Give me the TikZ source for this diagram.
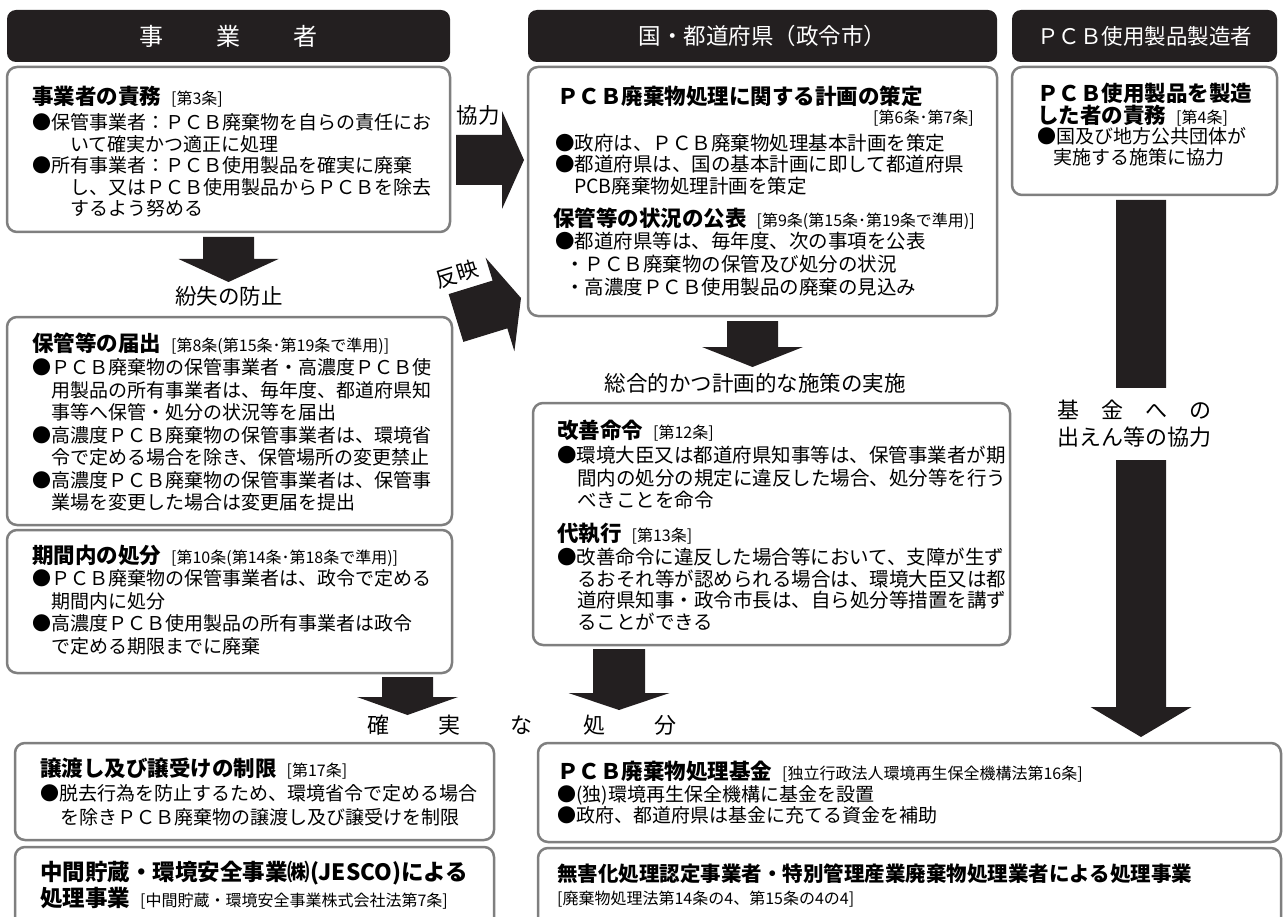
\documentclass[tikz,border=0pt]{standalone}
\usepackage{fontspec}
\setmainfont{Noto Sans CJK JP}
\usetikzlibrary{calc}
\definecolor{ink}{HTML}{231F20}
\definecolor{frame}{HTML}{7F7F7F}
\newcommand\fsz[1]{\fontsize{#1}{#1}\selectfont}
\newcommand\artref[1]{{\fsz{16}\mdseries #1}}
\tikzset{
  box/.style={draw=frame, line width=2.5pt, rounded corners=10pt, fill=white, inner sep=0pt},
  hdr/.style={fill=ink, rounded corners=9pt, inner sep=0pt, text=white},
  arr/.style={fill=ink},
  ln/.style={anchor=base west, inner sep=0pt, font=\fsz{19}},
  lng/.style={anchor=base west, inner sep=0pt, font=\fsz{19.5}},
  ttl/.style={anchor=base west, inner sep=0pt, font=\fsz{21.5}\bfseries},
  lbl/.style={inner sep=0pt, font=\fsz{21.5}},
}
% box from (x1,y1) to (x2,y2) in pixel units
\newcommand\roundbox[5]{\node[box, minimum width={#4-#2}, minimum height={#5-#3}] (#1) at ({(#2+#4)/2},{(#3+#5)/2}) {};}
% block arrow: start, end, half shaft width, half head width, head length
\newcommand\blockarrow[5]{%
  \coordinate (tmp-h) at ($(#2)!#5!(#1)$);
  \fill[arr] ($(#1)!#3!90:(#2)$) -- ($(tmp-h)!#3!-90:(#1)$) -- ($(tmp-h)!#4!-90:(#1)$) -- (#2)
    -- ($(tmp-h)!#4!90:(#1)$) -- ($(tmp-h)!#3!90:(#1)$) -- ($(#1)!#3!-90:(#2)$) -- cycle;}
\begin{document}
\begin{tikzpicture}[x=1pt,y=-1pt]
\useasboundingbox (0,0) rectangle (1284,917);
\clip (0,0) rectangle (1284,917);

% headers
\node[hdr, minimum width=443, minimum height=52, font=\fsz{24}] (h1) at (228.5,36) {事\hspace{53pt}業\hspace{53pt}者};
\node[hdr, minimum width=469, minimum height=52, font=\fsz{22.5}] (h2) at (762.5,36) {国・都道府県（政令市）};
\node[hdr, minimum width=265, minimum height=52, font=\fsz{21.5}] (h3) at (1144.5,36) {ＰＣＢ使用製品製造者};

% boxes
\roundbox{b1}{7}{67}{450}{232}
\roundbox{b2}{7}{317}{452}{525}
\roundbox{b3}{7}{530}{452}{673}
\roundbox{g1}{528}{67}{997}{316}
\roundbox{g2}{533}{403}{1010}{645}
\roundbox{m1}{1012}{67}{1277}{195}
\roundbox{l1}{15}{743}{494}{840}
\roundbox{l2}{15}{847}{494}{960}
\roundbox{r1}{538}{743}{1281}{842}
\roundbox{r2}{538}{848}{1281}{960}

% arrows
\coordinate (a1s) at (228.5,237); \coordinate (a1e) at (228.5,282);
\blockarrow{a1s}{a1e}{25.5pt}{50pt}{23pt}
\coordinate (a2s) at (456,160); \coordinate (a2e) at (524,160);
\blockarrow{a2s}{a2e}{25pt}{49pt}{22pt}
\coordinate (a3s) at (456,318); \coordinate (a3e) at (521,298);
\blockarrow{a3s}{a3e}{25pt}{49pt}{22pt}
\coordinate (a4s) at (752.5,321); \coordinate (a4e) at (752.5,367);
\blockarrow{a4s}{a4e}{25.5pt}{50.5pt}{20pt}
\coordinate (a5s) at (407.5,677); \coordinate (a5e) at (407.5,715);
\blockarrow{a5s}{a5e}{25.5pt}{50.5pt}{18pt}
\coordinate (a6s) at (619,649); \coordinate (a6e) at (619,710);
\blockarrow{a6s}{a6e}{26pt}{50.5pt}{17pt}
\coordinate (a7s) at (1141,200); \coordinate (a7e) at (1141,737);
\blockarrow{a7s}{a7e}{25pt}{50.5pt}{30pt}

% arrow labels
\node[lbl] (lfun) at (229,296) {紛失の防止};
\node[lbl, fill=white, inner sep=1pt] (lkyo) at (478,115) {協力};
\node[lbl, fill=white, inner sep=1pt, rotate=17] (lhan) at (457,274) {反映};
\node[lbl] (lsou) at (755,383) {総合的かつ計画的な施策の実施};
\node[lbl, font=\fsz{22}] (lkaku) at (522,725) {確\hspace{50pt}実\hspace{50pt}な\hspace{50pt}処\hspace{50pt}分};
\node[lbl, fill=white, align=center, font=\fontsize{22}{27}\selectfont, inner xsep=3pt, inner ysep=12pt] (lkik) at (1134,424) {基　金　へ　の\\出えん等の協力};

% B1
\node[ttl] (b1t) at (32,105) {事業者の責務\hspace{10pt}\artref{[第3条]}};
\node[ln] (b1a) at (32,130) {●保管事業者：ＰＣＢ廃棄物を自らの責任にお};
\node[ln] (b1b) at (70,152) {いて確実かつ適正に処理};
\node[ln] (b1c) at (32,173) {●所有事業者：ＰＣＢ使用製品を確実に廃棄};
\node[ln] (b1d) at (70,195) {し、又はＰＣＢ使用製品からＰＣＢを除去};
\node[ln] (b1e) at (70,216) {するよう努める};

% B2
\node[ttl] (b2t) at (32,351) {保管等の届出\hspace{10pt}\artref{[第8条(第15条･第19条で準用)]}};
\node[ln] (b2a) at (32,374) {●ＰＣＢ廃棄物の保管事業者・高濃度ＰＣＢ使};
\node[ln] (b2b) at (51,397) {用製品の所有事業者は、毎年度、都道府県知};
\node[ln] (b2c) at (51,419) {事等へ保管・処分の状況等を届出};
\node[ln] (b2d) at (32,442) {●高濃度ＰＣＢ廃棄物の保管事業者は、環境省};
\node[ln] (b2e) at (51,464) {令で定める場合を除き、保管場所の変更禁止};
\node[ln] (b2f) at (32,487) {●高濃度ＰＣＢ廃棄物の保管事業者は、保管事};
\node[ln] (b2g) at (51,509) {業場を変更した場合は変更届を提出};

% B3
\node[ttl] (b3t) at (32,563) {期間内の処分\hspace{10pt}\artref{[第10条(第14条･第18条で準用)]}};
\node[ln] (b3a) at (32,585) {●ＰＣＢ廃棄物の保管事業者は、政令で定める};
\node[ln] (b3b) at (51,608) {期間内に処分};
\node[ln] (b3c) at (32,630) {●高濃度ＰＣＢ使用製品の所有事業者は政令};
\node[ln] (b3d) at (51,653) {で定める期限までに廃棄};

% G1
\node[ttl] (g1t) at (557,105) {ＰＣＢ廃棄物処理に関する計画の策定};
\node[anchor=base east, inner sep=0pt, font=\fsz{16}] (g1r) at (974,124) {[第6条･第7条]};
\node[lng] (g1a) at (555,150.5) {●政府は、ＰＣＢ廃棄物処理基本計画を策定};
\node[lng] (g1b) at (555,171.5) {●都道府県は、国の基本計画に即して都道府県};
\node[lng] (g1c) at (574,193.5) {PCB廃棄物処理計画を策定};
\node[ttl] (g1u) at (553,227) {保管等の状況の公表\hspace{10pt}\artref{[第9条(第15条･第19条で準用)]}};
\node[lng] (g1d) at (555,248.5) {●都道府県等は、毎年度、次の事項を公表};
\node[lng] (g1e) at (565,271.5) {・ＰＣＢ廃棄物の保管及び処分の状況};
\node[lng] (g1f) at (565,294.5) {・高濃度ＰＣＢ使用製品の廃棄の見込み};

% G2
\node[ttl] (g2t) at (557,438) {改善命令\hspace{10pt}\artref{[第12条]}};
\node[lng] (g2a) at (557,462.5) {●環境大臣又は都道府県知事等は、保管事業者が期};
\node[lng] (g2b) at (577,485) {間内の処分の規定に違反した場合、処分等を行う};
\node[lng] (g2c) at (577,507.5) {べきことを命令};
\node[ttl] (g2u) at (557,541) {代執行\hspace{10pt}\artref{[第13条]}};
\node[lng] (g2d) at (557,564.5) {●改善命令に違反した場合等において、支障が生ず};
\node[lng] (g2e) at (577,586) {るおそれ等が認められる場合は、環境大臣又は都};
\node[lng] (g2f) at (577,607.5) {道府県知事・政令市長は、自ら処分等措置を講ず};
\node[lng] (g2g) at (577,629) {ることができる};

% M1
\node[ttl] (m1t) at (1037,102) {ＰＣＢ使用製品を製造};
\node[ttl] (m1u) at (1037,124) {した者の責務\hspace{10pt}\artref{[第4条]}};
\node[ln] (m1a) at (1037,144) {●国及び地方公共団体が};
\node[ln] (m1b) at (1053,165) {実施する施策に協力};

% L1, L2
\node[ttl] (l1t) at (40,776) {譲渡し及び譲受けの制限\hspace{10pt}\artref{[第17条]}};
\node[ln] (l1a) at (40,800) {●脱去行為を防止するため、環境省令で定める場合};
\node[ln] (l1b) at (60,824) {を除きＰＣＢ廃棄物の譲渡し及び譲受けを制限};
\node[ttl, font=\fsz{22.5}\bfseries] (l2t) at (40,880.5) {中間貯蔵・環境安全事業㈱(JESCO)による};
\node[ttl, font=\fsz{22.5}\bfseries] (l2u) at (40,906.5) {処理事業\hspace{10pt}\artref{[中間貯蔵・環境安全事業株式会社法第7条]}};

% R1, R2
\node[ttl] (r1t) at (557,779) {ＰＣＢ廃棄物処理基金\hspace{10pt}\artref{[独立行政法人環境再生保全機構法第16条]}};
\node[ln] (r1a) at (557,801) {●(独)環境再生保全機構に基金を設置};
\node[ln] (r1b) at (557,822) {●政府、都道府県は基金に充てる資金を補助};
\node[ttl, font=\fsz{20.5}\bfseries] (r2t) at (557,881) {無害化処理認定事業者・特別管理産業廃棄物処理業者による処理事業};
\node[anchor=base west, inner sep=0pt, font=\fsz{16}] (r2a) at (557,904) {[廃棄物処理法第14条の4、第15条の4の4]};
\end{tikzpicture}
\end{document}
